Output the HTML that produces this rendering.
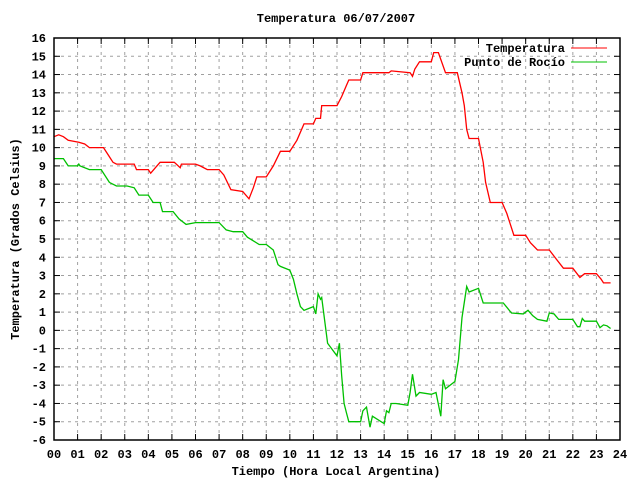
<!DOCTYPE html>
<html><head><meta charset="utf-8"><style>
body{margin:0;background:#fff}
svg{display:block}
text{font-family:"Liberation Mono",monospace;font-weight:bold;font-size:12px;fill:#000}
</style></head><body>
<svg id="chart" width="640" height="480" viewBox="0 0 640 480" xmlns="http://www.w3.org/2000/svg">
<rect x="0" y="0" width="640" height="480" fill="#fff"/>
<g id="grid"></g>
<g id="ticks"></g>
<g id="series"></g>
<rect x="54" y="38" width="566" height="402" fill="none" stroke="#000" stroke-width="1.5"/>
<text x="336" y="22" text-anchor="middle">Temperatura 06/07/2007</text>
<text x="336" y="475" text-anchor="middle">Tiempo (Hora Local Argentina)</text>
<text transform="translate(19,239) rotate(-90)" text-anchor="middle">Temperatura (Grados Celsius)</text>
<g>
<text x="565" y="52" text-anchor="end">Temperatura</text>
<line x1="571" y1="48" x2="607" y2="48" stroke="#ff0000" stroke-width="1"/>
<text x="565" y="66" text-anchor="end">Punto de Rocío</text>
<line x1="571" y1="62" x2="607" y2="62" stroke="#00c000" stroke-width="1"/>
</g>
</svg>
<script>
const yTicks=[-6,-5,-4,-3,-2,-1,0,1,2,3,4,5,6,7,8,9,10,11,12,13,14,15,16];
const xTicks=["00","01","02","03","04","05","06","07","08","09","10","11","12","13","14","15","16","17","18","19","20","21","22","23","24"];
const tempHours=[0,0.2,0.4,0.6,1.05,1.3,1.5,2.1,2.3,2.4,2.5,2.65,3.4,3.5,4.0,4.1,4.3,4.5,5.1,5.35,5.4,6.0,6.2,6.5,7.0,7.2,7.5,8.0,8.27,8.45,8.6,9.0,9.3,9.6,10.0,10.3,10.6,11.0,11.1,11.3,11.35,12.0,12.2,12.4,12.5,13.0,13.1,14.2,14.3,15.1,15.2,15.3,15.5,16.0,16.1,16.3,16.6,17.1,17.3,17.4,17.5,17.6,18.0,18.2,18.3,18.5,19.0,19.2,19.5,20.0,20.2,20.5,21.0,21.3,21.6,22.0,22.3,22.5,23.0,23.2,23.3,23.6];
const tempValues=[10.6,10.7,10.6,10.4,10.3,10.2,10.0,10.0,9.6,9.4,9.2,9.1,9.1,8.8,8.8,8.6,8.9,9.2,9.2,8.9,9.1,9.1,9.0,8.8,8.8,8.5,7.7,7.6,7.2,7.8,8.4,8.4,9.0,9.8,9.8,10.4,11.3,11.3,11.6,11.6,12.3,12.3,12.8,13.4,13.7,13.7,14.1,14.1,14.2,14.1,13.9,14.3,14.7,14.7,15.2,15.2,14.1,14.1,13.0,12.3,11.0,10.5,10.5,9.2,8.1,7.0,7.0,6.4,5.2,5.2,4.8,4.4,4.4,3.9,3.4,3.4,2.9,3.1,3.1,2.8,2.6,2.6];
const dewHours=[0,0.4,0.6,1.0,1.05,1.1,1.5,2.0,2.35,2.65,3.1,3.4,3.6,4.0,4.2,4.5,4.6,5.05,5.3,5.6,6.0,7.0,7.3,7.6,8.0,8.2,8.7,9.0,9.3,9.5,9.6,10.0,10.15,10.3,10.45,10.6,11.0,11.1,11.2,11.3,11.35,11.6,12.0,12.1,12.2,12.3,12.4,12.5,13.0,13.1,13.25,13.4,13.5,14.0,14.1,14.2,14.3,14.5,15.0,15.1,15.2,15.35,15.5,16.0,16.2,16.4,16.5,16.6,17.0,17.15,17.3,17.5,17.6,18.0,18.2,18.9,19.05,19.4,19.9,20.1,20.3,20.5,20.9,21.0,21.2,21.4,22.0,22.2,22.3,22.4,22.5,23.0,23.15,23.3,23.45,23.6];
const dewValues=[9.4,9.4,9.0,9.0,9.1,9.0,8.8,8.8,8.1,7.9,7.9,7.8,7.4,7.4,7.0,7.0,6.5,6.5,6.1,5.8,5.9,5.9,5.5,5.4,5.4,5.1,4.7,4.7,4.4,3.6,3.5,3.3,2.8,2.0,1.3,1.1,1.3,0.9,2.0,1.7,1.8,-0.7,-1.4,-0.7,-2.5,-4.0,-4.5,-5.0,-5.0,-4.4,-4.2,-5.3,-4.7,-5.1,-4.4,-4.5,-4.0,-4.0,-4.1,-3.4,-2.4,-3.6,-3.4,-3.5,-3.4,-4.7,-2.7,-3.2,-2.8,-1.6,0.7,2.4,2.1,2.3,1.5,1.5,1.5,0.95,0.9,1.1,0.8,0.6,0.5,0.95,0.9,0.6,0.6,0.2,0.2,0.65,0.5,0.5,0.15,0.3,0.25,0.1];

const NS="http://www.w3.org/2000/svg";
const X0=54,X1=620,Y0=440,Y1=38;
function xScale(h){return X0+(X1-X0)*h/24;}
function yScale(v){return Y0-(Y0-Y1)*(v+6)/22;}
function mk(tag,attrs,parent){const e=document.createElementNS(NS,tag);for(const k in attrs)e.setAttribute(k,attrs[k]);parent.appendChild(e);return e;}
const grid=document.getElementById('grid'),ticks=document.getElementById('ticks'),series=document.getElementById('series');

yTicks.forEach(v=>{
  const y=yScale(v);
  if(v>-6&&v<16){
    const g=mk('line',{x1:X0,x2:X1,y1:y,y2:y,stroke:'#a0a0a0','stroke-width':1,'stroke-dasharray':'3,4'},grid);
    
    
  }
  const t1=mk('line',{x1:X0,x2:X0+6,y1:y,y2:y,stroke:'#000'},ticks);
  
  
  const t2=mk('line',{x1:X1-6,x2:X1,y1:y,y2:y,stroke:'#000'},ticks);
  
  
  const tx=mk('text',{x:46,y:y+4,'text-anchor':'end'},ticks);
  tx.textContent=String(v);
  
  
});
xTicks.forEach((lab,i)=>{
  const x=xScale(i);
  if(i>0&&i<24){
    const g=mk('line',{x1:x,x2:x,y1:Y1,y2:Y0,stroke:'#a0a0a0','stroke-width':1,'stroke-dasharray':'3,4'},grid);
    
    
  }
  const t1=mk('line',{x1:x,x2:x,y1:Y0,y2:Y0-6,stroke:'#000'},ticks);
  
  
  const t2=mk('line',{x1:x,x2:x,y1:Y1,y2:Y1+6,stroke:'#000'},ticks);
  
  
  const tx=mk('text',{x:x,y:458,'text-anchor':'middle'},ticks);
  tx.textContent=lab;
  
  
});
function linePath(hs,vs){
  let d='';
  for(let i=0;i<hs.length;i++){
    const x=xScale(hs[i]).toFixed(1),y=yScale(vs[i]).toFixed(1);
    d+=(i===0?'M':' L')+x+' '+y;
  }
  return d;
}
const tp=mk('path',{d:linePath(tempHours,tempValues),fill:'none',stroke:'#ff0000','stroke-width':1.3},series);


const dp=mk('path',{d:linePath(dewHours,dewValues),fill:'none',stroke:'#00c000','stroke-width':1.3},series);


</script>
</body></html>
